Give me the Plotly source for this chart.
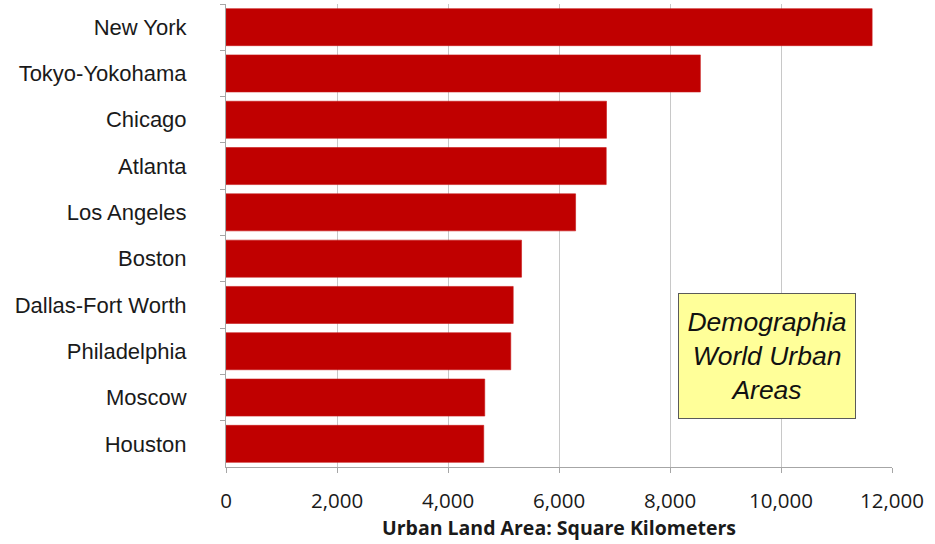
import plotly.graph_objects as go

# Largest urban areas by land area (km²)
cities = ["New York", "Tokyo-Yokohama", "Chicago", "Atlanta", "Los Angeles",
          "Boston", "Dallas-Fort Worth", "Philadelphia", "Moscow", "Houston"]
land_area_km2 = [11642, 8547, 6856, 6851, 6299, 5325, 5175, 5131, 4662, 4644]

x_tick_values = [0, 2000, 4000, 6000, 8000, 10000, 12000]
x_tick_labels = ["0", "2,000", "4,000", "6,000", "8,000", "10,000", "12,000"]

fig = go.Figure(
    go.Bar(
        x=land_area_km2,
        y=cities,
        orientation="h",
        marker=dict(color="#C00000", line=dict(color="#C81818", width=0.6)),
        width=0.8,
        hoverinfo="x+y",
    )
)

fig.update_layout(
    width=935,
    height=544,
    margin=dict(l=226, r=43, t=4, b=77),
    paper_bgcolor="white",
    plot_bgcolor="white",
    showlegend=False,
    xaxis=dict(
        range=[0, 12000],
        tickvals=x_tick_values,
        ticktext=x_tick_labels,
        showgrid=True,
        gridcolor="#C8C8C8",
        gridwidth=1,
        zeroline=False,
        showline=True,
        linecolor="#A6A6A6",
        ticks="outside",
        ticklen=5,
        tickcolor="#A6A6A6",
        ticklabelstandoff=10,
        tickfont=dict(family="Open Sans", size=20.5, color="#1A1A1A"),
        title=dict(
            text="<b>Urban Land Area: Square Kilometers</b>",
            font=dict(family="Open Sans", size=19.5, color="#1A1A1A"),
            standoff=7,
        ),
    ),
    yaxis=dict(
        categoryorder="array",
        categoryarray=cities,
        autorange="reversed",
        showgrid=False,
        zeroline=False,
        showline=True,
        linecolor="#A6A6A6",
        ticks="outside",
        tickson="boundaries",
        ticklen=5,
        tickcolor="#A6A6A6",
        ticklabelstandoff=34,
        tickfont=dict(family="Liberation Sans", size=22, color="#1A1A1A"),
    ),
    annotations=[
        dict(
            xref="paper",
            yref="paper",
            x=0.812,
            y=0.24,
            xanchor="center",
            yanchor="middle",
            text="<i>Demographia<br>World Urban<br>Areas</i>",
            showarrow=False,
            align="center",
            font=dict(family="Liberation Sans", size=26.5, color="#111111"),
            bgcolor="#FFFF99",
            bordercolor="#5A5A5A",
            borderwidth=1,
            borderpad=2,
            width=172,
            height=120,
        )
    ],
)

fig.write_html("out.html")
